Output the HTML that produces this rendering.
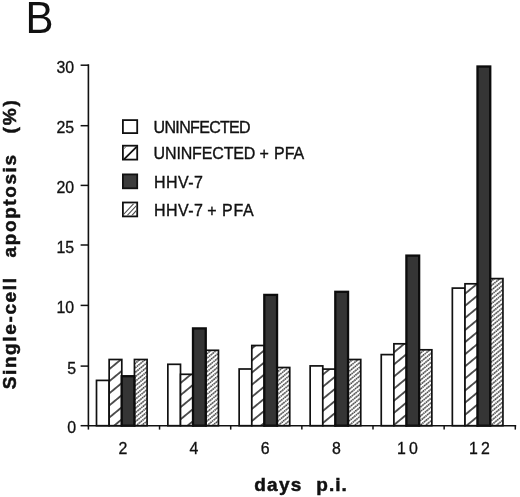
<!DOCTYPE html>
<html><head><meta charset="utf-8"><title>B</title>
<style>
html,body{margin:0;padding:0;background:#fff;}
svg{display:block;filter:grayscale(1) blur(0.3px);font-family:"Liberation Sans",Arial,Helvetica,sans-serif;fill:#111;}
.b{font-weight:bold;font-size:19px;stroke:#111;stroke-width:0.5px;}
.t{font-size:15.9px;stroke:#111;stroke-width:0.3px;}
.l{font-size:16px;stroke:#111;stroke-width:0.35px;}
</style></head><body>
<svg width="520" height="497" viewBox="0 0 520 497">
<defs>
<pattern id="h1" patternUnits="userSpaceOnUse" width="20" height="9.34" patternTransform="translate(110.3,380.4) rotate(-39.5)">
<rect width="20" height="9.34" fill="#fff"/>
<path d="M0,0 H20 M0,9.34 H20" stroke="#111" stroke-width="1.5"/>
</pattern>
<pattern id="h2" patternUnits="userSpaceOnUse" width="23" height="3.47" patternTransform="translate(490.8,286.1) rotate(-39.5)">
<rect width="23" height="3.47" fill="#fff"/>
<path d="M0,0 H23 M0,3.47 H23" stroke="#0a0a0a" stroke-width="1.15" stroke-dasharray="1.6 0.7"/>
</pattern>
<clipPath id="c4"><rect x="123.8" y="203.4" width="12.5" height="12.1"/></clipPath>
</defs>
<rect width="520" height="497" fill="#fff"/>

<text transform="translate(25.6,32.7) scale(1,1.04)" font-size="42">B</text>
<rect x="96.50" y="380.40" width="12.65" height="45.30" fill="#fff" stroke="#111" stroke-width="1.7"/>
<rect x="109.15" y="359.50" width="12.65" height="66.20" fill="url(#h1)" stroke="#111" stroke-width="1.7"/>
<rect x="134.45" y="359.50" width="12.65" height="66.20" fill="url(#h2)" stroke="#111" stroke-width="1.7"/>
<rect x="167.85" y="364.30" width="12.65" height="61.40" fill="#fff" stroke="#111" stroke-width="1.7"/>
<rect x="180.50" y="374.30" width="12.65" height="51.40" fill="url(#h1)" stroke="#111" stroke-width="1.7"/>
<rect x="205.80" y="350.30" width="12.65" height="75.40" fill="url(#h2)" stroke="#111" stroke-width="1.7"/>
<rect x="239.15" y="369.00" width="12.65" height="56.70" fill="#fff" stroke="#111" stroke-width="1.7"/>
<rect x="251.80" y="345.50" width="12.65" height="80.20" fill="url(#h1)" stroke="#111" stroke-width="1.7"/>
<rect x="277.10" y="367.50" width="12.65" height="58.20" fill="url(#h2)" stroke="#111" stroke-width="1.7"/>
<rect x="310.15" y="365.90" width="12.65" height="59.80" fill="#fff" stroke="#111" stroke-width="1.7"/>
<rect x="322.80" y="369.10" width="12.65" height="56.60" fill="url(#h1)" stroke="#111" stroke-width="1.7"/>
<rect x="348.10" y="359.50" width="12.65" height="66.20" fill="url(#h2)" stroke="#111" stroke-width="1.7"/>
<rect x="381.25" y="354.60" width="12.65" height="71.10" fill="#fff" stroke="#111" stroke-width="1.7"/>
<rect x="393.90" y="343.80" width="12.65" height="81.90" fill="url(#h1)" stroke="#111" stroke-width="1.7"/>
<rect x="419.20" y="349.80" width="12.65" height="75.90" fill="url(#h2)" stroke="#111" stroke-width="1.7"/>
<rect x="452.35" y="288.10" width="12.65" height="137.60" fill="#fff" stroke="#111" stroke-width="1.7"/>
<rect x="465.00" y="283.80" width="12.65" height="141.90" fill="url(#h1)" stroke="#111" stroke-width="1.7"/>
<rect x="490.30" y="278.60" width="12.65" height="147.10" fill="url(#h2)" stroke="#111" stroke-width="1.7"/>
<rect x="121.65" y="376.20" width="12.75" height="49.50" fill="#353535" stroke="#0c0c0c" stroke-width="2.3"/>
<rect x="193.00" y="328.40" width="12.75" height="97.30" fill="#353535" stroke="#0c0c0c" stroke-width="2.3"/>
<rect x="264.30" y="294.90" width="12.75" height="130.80" fill="#353535" stroke="#0c0c0c" stroke-width="2.3"/>
<rect x="335.30" y="291.80" width="12.75" height="133.90" fill="#353535" stroke="#0c0c0c" stroke-width="2.3"/>
<rect x="406.40" y="255.60" width="12.75" height="170.10" fill="#353535" stroke="#0c0c0c" stroke-width="2.3"/>
<rect x="477.50" y="66.50" width="12.75" height="359.20" fill="#353535" stroke="#0c0c0c" stroke-width="2.3"/>
<path d="M88.4,64.3 V425.7 M87.6,425.7 H516.2" stroke="#111" stroke-width="1.6" fill="none"/>
<path d="M80.6,425.70 H88.4" stroke="#111" stroke-width="1.5"/>
<text class="t" x="76.1" y="433.40" text-anchor="end">0</text>
<path d="M80.6,366.10 H88.4" stroke="#111" stroke-width="1.5"/>
<text class="t" x="76.1" y="373.80" text-anchor="end">5</text>
<path d="M80.6,305.40 H88.4" stroke="#111" stroke-width="1.5"/>
<text class="t" x="74.1" y="313.10" text-anchor="end">10</text>
<path d="M80.6,245.00 H88.4" stroke="#111" stroke-width="1.5"/>
<text class="t" x="74.1" y="252.70" text-anchor="end">15</text>
<path d="M80.6,185.40 H88.4" stroke="#111" stroke-width="1.5"/>
<text class="t" x="74.1" y="193.10" text-anchor="end">20</text>
<path d="M80.6,125.70 H88.4" stroke="#111" stroke-width="1.5"/>
<text class="t" x="74.1" y="133.40" text-anchor="end">25</text>
<path d="M80.6,65.20 H88.4" stroke="#111" stroke-width="1.5"/>
<text class="t" x="74.1" y="72.90" text-anchor="end">30</text>
<path d="M88.40,425.7 V429.6" stroke="#111" stroke-width="1.5"/>
<path d="M159.55,425.7 V429.6" stroke="#111" stroke-width="1.5"/>
<path d="M230.70,425.7 V429.6" stroke="#111" stroke-width="1.5"/>
<path d="M301.85,425.7 V429.6" stroke="#111" stroke-width="1.5"/>
<path d="M373.00,425.7 V429.6" stroke="#111" stroke-width="1.5"/>
<path d="M444.15,425.7 V429.6" stroke="#111" stroke-width="1.5"/>
<path d="M515.30,425.7 V429.6" stroke="#111" stroke-width="1.5"/>
<text class="t" x="122.80" y="453.8" text-anchor="middle">2</text>
<text class="t" x="193.97" y="453.8" text-anchor="middle">4</text>
<text class="t" x="265.14" y="453.8" text-anchor="middle">6</text>
<text class="t" x="336.31" y="453.8" text-anchor="middle">8</text>
<text class="t" x="397" y="453.8" letter-spacing="3.2">10</text>
<text class="t" x="469" y="453.8" letter-spacing="3.1">12</text>
<text class="b" x="254.2" y="491.2" letter-spacing="1.3">days</text>
<text class="b" x="316.3" y="491" letter-spacing="1.0">p.i.</text>
<g transform="translate(16,0) rotate(-90)">
<text class="b" x="-389.3" y="0" letter-spacing="1.62">Single-cell</text>
<text class="b" x="-257.4" y="0" letter-spacing="1.58">apoptosis</text>
<text class="b" x="-133.4" y="0" letter-spacing="1.8">(%)</text>
</g>
<rect x="122.9" y="120.10" width="14.3" height="13.0" fill="#fff" stroke="#111" stroke-width="1.8"/>
<text class="l" x="153.6" y="132.7" letter-spacing="-0.67" text-anchor="start">UNINFECTED</text>
<rect x="122.9" y="145.70" width="14.3" height="13.9" fill="#fff" stroke="#111" stroke-width="1.8"/>
<path d="M124.2,159.20 L136.8,146.70" stroke="#111" stroke-width="1.8"/>
<path d="M123.6,149.00 L126.4,146.20" stroke="#555" stroke-width="1"/>
<text class="l" x="153.6" y="158.9" letter-spacing="-0.15" text-anchor="start">UNINFECTED</text>
<text class="l" x="264.2" y="158.9" letter-spacing="0" text-anchor="middle">+</text>
<text class="l" x="274.0" y="158.9" letter-spacing="0.0" text-anchor="start">PFA</text>
<rect x="122.9" y="174.40" width="14.3" height="13.9" fill="#3c3c3c" stroke="#111" stroke-width="1.8"/>
<text class="l" x="153.9" y="188" letter-spacing="0.45" text-anchor="start">HHV-7</text>
<rect x="122.9" y="202.50" width="14.3" height="13.9" fill="#fff" stroke="#111" stroke-width="1.8"/>
<path d="M122.30,215.80 L133.70,203.60" stroke="#4a4a4a" stroke-width="1.1" clip-path="url(#c4)"/>
<path d="M126.90,215.80 L138.30,203.60" stroke="#4a4a4a" stroke-width="1.1" clip-path="url(#c4)"/>
<path d="M131.50,215.80 L142.90,203.60" stroke="#4a4a4a" stroke-width="1.1" clip-path="url(#c4)"/>
<text class="l" x="153.9" y="215.8" letter-spacing="0.45" text-anchor="start">HHV-7</text>
<text class="l" x="211.8" y="215.8" letter-spacing="0" text-anchor="middle">+</text>
<text class="l" x="222.0" y="215.8" letter-spacing="0.75" text-anchor="start">PFA</text>
</svg></body></html>
